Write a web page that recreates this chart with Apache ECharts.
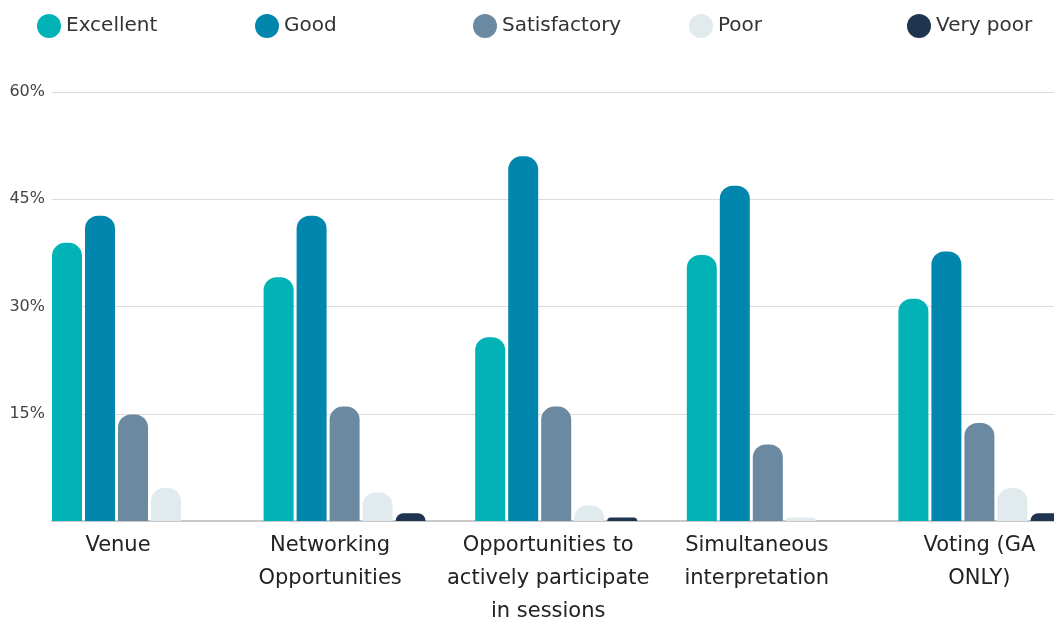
<!DOCTYPE html>
<html>
<head>
<meta charset="utf-8">
<script src="https://cdn.jsdelivr.net/npm/echarts@6/dist/echarts.min.js"></script>
<style>
html,body{margin:0;padding:0;background:#fff;}
#chart{width:1054px;height:619px;}
</style>
</head>
<body>
<div id="chart"></div>
<script>
const categories = ['Venue', 'Networking\nOpportunities', 'Opportunities to\nactively participate\nin sessions', 'Simultaneous\ninterpretation', 'Voting (GA\nONLY)'];
const seriesNames = ['Excellent', 'Good', 'Satisfactory', 'Poor', 'Very poor'];
const excellent = [38.9, 34.1, 25.7, 37.2, 31.1];
const good = [42.7, 42.7, 51.0, 46.9, 37.7];
const satisfactory = [14.9, 16.0, 16.0, 10.7, 13.7];
const poor = [4.6, 4.0, 2.2, 0.5, 4.6];
const veryPoor = [0, 1.1, 0.5, 0, 1.1];
const yMin = 0, yMax = 60, yStep = 15;

const colors = ['#01B3B6', '#0187AE', '#6C89A2', '#E1EAED', '#1F344F'];
const values = [excellent, good, satisfactory, poor, veryPoor];
const FONT = 'DejaVu Sans';

// per-category label horizontal shift (style)
const labelPad = [[0, 30, 0, 0], [0, 29, 0, 0], [0, 16, 0, 0], [0, 22, 0, 0], [0, 0, 0, 0]];
const rich = {};
labelPad.forEach((p, i) => {
  rich['s' + i] = { fontFamily: FONT, fontSize: 21, color: '#222', lineHeight: 33, padding: p };
});

const legendLefts = [37, 255, 473, 689, 907];
const legends = seriesNames.map((n, i) => ({
  data: [n],
  left: legendLefts[i],
  top: 14,
  icon: 'circle',
  itemWidth: 24,
  itemHeight: 24,
  padding: 0,
  selectedMode: false,
  textStyle: { fontFamily: FONT, fontSize: 20, color: '#333' }
}));

const option = {
  animation: false,
  backgroundColor: '#fff',
  color: colors,
  legend: legends,
  grid: [
    { left: 52, right: 0, top: 92, bottom: 98, outerBoundsMode: 'none' },
    { left: 27.2, right: -31.2, top: 92, bottom: 98, outerBoundsMode: 'none' }
  ],
  xAxis: [
    {
      gridIndex: 0, type: 'category', data: categories,
      axisLine: { show: true, lineStyle: { color: '#c8c8c8', width: 2 } },
      axisTick: { show: false }, axisLabel: { show: false }, splitLine: { show: false }
    },
    {
      gridIndex: 1, type: 'category', data: categories,
      axisLine: { show: false }, axisTick: { show: false },
      axisLabel: {
        interval: 0, margin: 8,
        formatter: (v, i) => v.split('\n').map(l => '{s' + i + '|' + l + '}').join('\n'),
        rich: rich
      }
    }
  ],
  yAxis: [
    {
      gridIndex: 0, type: 'value', min: yMin, max: yMax, interval: yStep,
      axisLine: { show: false }, axisTick: { show: false },
      axisLabel: {
        margin: 7, fontFamily: FONT, fontSize: 16, color: '#444',
        formatter: v => v === 0 ? '' : v + '%'
      },
      splitLine: { lineStyle: { color: '#dcdcdc', width: 1 } }
    },
    {
      gridIndex: 1, type: 'value', min: yMin, max: yMax, interval: yStep,
      show: false, splitLine: { show: false }
    }
  ],
  series: seriesNames.map((n, i) => ({
    name: n,
    type: 'bar',
    xAxisIndex: 1,
    yAxisIndex: 1,
    data: values[i],
    barWidth: 30,
    barGap: '10%',
    itemStyle: { color: colors[i], borderRadius: [13, 13, 0, 0] }
  }))
};

const chart = echarts.init(document.getElementById('chart'), null, { renderer: 'canvas' });
chart.setOption(option);
</script>
</body>
</html>
